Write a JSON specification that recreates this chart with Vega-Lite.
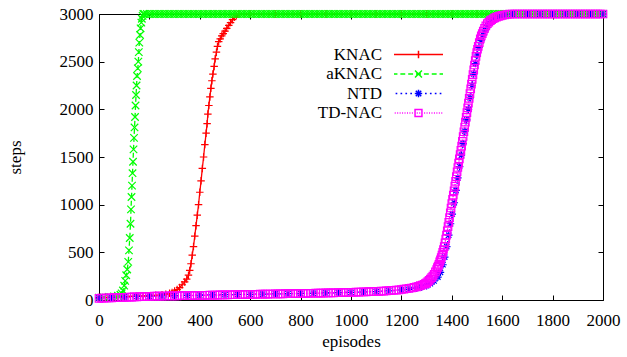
{
  "$schema": "https://vega.github.io/schema/vega-lite/v6.json",
  "width": 504,
  "height": 286,
  "autosize": "none",
  "padding": {"left": 99, "top": 14, "right": 24, "bottom": 57},
  "background": "white",
  "config": {
    "font": "Liberation Serif",
    "view": {"stroke": "black", "strokeWidth": 1},
    "axis": {
      "domain": false, "grid": false, "tickColor": "black", "tickSize": -5, "tickWidth": 1, "format": "d",
      "labelFont": "Liberation Serif", "labelFontSize": 17, "labelColor": "black",
      "titleFont": "Liberation Serif", "titleFontSize": 17, "titleFontWeight": "normal", "titleColor": "black"
    },
    "legend": {"orient": "none", "legendX": 311, "legendY": 32, "title": null,
               "labelFont": "Liberation Serif", "labelFontSize": 17, "labelColor": "black",
               "labelAlign": "right", "labelOffset": -45, "symbolSize": 100, "symbolStrokeWidth": 1.5, "rowPadding": 1.5}
  },
  "data": {"values": [
    {"s":"KNAC","e":0,"v":25},{"s":"KNAC","e":25,"v":28},{"s":"KNAC","e":50,"v":30},{"s":"KNAC","e":75,"v":32},{"s":"KNAC","e":100,"v":35},{"s":"KNAC","e":125,"v":37},{"s":"KNAC","e":150,"v":40},{"s":"KNAC","e":175,"v":42},{"s":"KNAC","e":200,"v":45},{"s":"KNAC","e":225,"v":50},{"s":"KNAC","e":250,"v":55},{"s":"KNAC","e":265,"v":60},{"s":"KNAC","e":280,"v":70},{"s":"KNAC","e":290,"v":80},{"s":"KNAC","e":300,"v":95},{"s":"KNAC","e":310,"v":110},{"s":"KNAC","e":320,"v":130},{"s":"KNAC","e":330,"v":160},{"s":"KNAC","e":340,"v":190},{"s":"KNAC","e":348,"v":220},{"s":"KNAC","e":355,"v":260},{"s":"KNAC","e":360,"v":310},{"s":"KNAC","e":365,"v":380},{"s":"KNAC","e":370,"v":470},{"s":"KNAC","e":375,"v":560},{"s":"KNAC","e":380,"v":670},{"s":"KNAC","e":385,"v":780},{"s":"KNAC","e":390,"v":890},{"s":"KNAC","e":395,"v":1000},{"s":"KNAC","e":400,"v":1130},{"s":"KNAC","e":405,"v":1250},{"s":"KNAC","e":410,"v":1380},{"s":"KNAC","e":415,"v":1500},{"s":"KNAC","e":420,"v":1630},{"s":"KNAC","e":425,"v":1750},{"s":"KNAC","e":429,"v":1850},{"s":"KNAC","e":432,"v":1950},{"s":"KNAC","e":436,"v":2040},{"s":"KNAC","e":440,"v":2130},{"s":"KNAC","e":444,"v":2220},{"s":"KNAC","e":448,"v":2300},{"s":"KNAC","e":452,"v":2370},{"s":"KNAC","e":457,"v":2450},{"s":"KNAC","e":461,"v":2530},{"s":"KNAC","e":466,"v":2600},{"s":"KNAC","e":470,"v":2660},{"s":"KNAC","e":475,"v":2710},{"s":"KNAC","e":481,"v":2740},{"s":"KNAC","e":487,"v":2770},{"s":"KNAC","e":493,"v":2795},{"s":"KNAC","e":500,"v":2820},{"s":"KNAC","e":507,"v":2850},{"s":"KNAC","e":515,"v":2880},{"s":"KNAC","e":522,"v":2910},{"s":"KNAC","e":530,"v":2940},{"s":"KNAC","e":537,"v":2965},{"s":"KNAC","e":545,"v":2985},{"s":"KNAC","e":555,"v":3000},{"s":"KNAC","e":600,"v":3000},{"s":"KNAC","e":700,"v":3000},{"s":"KNAC","e":800,"v":3000},{"s":"KNAC","e":900,"v":3000},{"s":"KNAC","e":1000,"v":3000},{"s":"KNAC","e":1100,"v":3000},{"s":"KNAC","e":1200,"v":3000},{"s":"KNAC","e":1300,"v":3000},{"s":"KNAC","e":1400,"v":3000},{"s":"KNAC","e":1500,"v":3000},{"s":"KNAC","e":1600,"v":3000},{"s":"KNAC","e":1700,"v":3000},{"s":"KNAC","e":1800,"v":3000},{"s":"KNAC","e":1900,"v":3000},{"s":"KNAC","e":2000,"v":3000},
    {"s":"aKNAC","e":0,"v":25},{"s":"aKNAC","e":20,"v":28},{"s":"aKNAC","e":40,"v":32},{"s":"aKNAC","e":60,"v":38},{"s":"aKNAC","e":75,"v":45},{"s":"aKNAC","e":85,"v":55},{"s":"aKNAC","e":90,"v":70},{"s":"aKNAC","e":95,"v":100},{"s":"aKNAC","e":100,"v":150},{"s":"aKNAC","e":104,"v":200},{"s":"aKNAC","e":108,"v":260},{"s":"aKNAC","e":112,"v":320},{"s":"aKNAC","e":116,"v":400},{"s":"aKNAC","e":119,"v":520},{"s":"aKNAC","e":122,"v":650},{"s":"aKNAC","e":125,"v":800},{"s":"aKNAC","e":127,"v":950},{"s":"aKNAC","e":129,"v":1080},{"s":"aKNAC","e":131,"v":1200},{"s":"aKNAC","e":133,"v":1330},{"s":"aKNAC","e":135,"v":1450},{"s":"aKNAC","e":137,"v":1580},{"s":"aKNAC","e":139,"v":1700},{"s":"aKNAC","e":141,"v":1810},{"s":"aKNAC","e":143,"v":1920},{"s":"aKNAC","e":145,"v":2040},{"s":"aKNAC","e":147,"v":2150},{"s":"aKNAC","e":149,"v":2250},{"s":"aKNAC","e":151,"v":2350},{"s":"aKNAC","e":154,"v":2430},{"s":"aKNAC","e":156,"v":2500},{"s":"aKNAC","e":158,"v":2600},{"s":"aKNAC","e":160,"v":2700},{"s":"aKNAC","e":163,"v":2780},{"s":"aKNAC","e":165,"v":2850},{"s":"aKNAC","e":168,"v":2910},{"s":"aKNAC","e":170,"v":2950},{"s":"aKNAC","e":173,"v":2980},{"s":"aKNAC","e":176,"v":3000},
    {"s":"aKNAC","e":180,"v":3000},{"s":"aKNAC","e":190,"v":3000},{"s":"aKNAC","e":200,"v":3000},{"s":"aKNAC","e":210,"v":3000},{"s":"aKNAC","e":220,"v":3000},{"s":"aKNAC","e":230,"v":3000},{"s":"aKNAC","e":240,"v":3000},{"s":"aKNAC","e":250,"v":3000},{"s":"aKNAC","e":260,"v":3000},{"s":"aKNAC","e":270,"v":3000},{"s":"aKNAC","e":280,"v":3000},{"s":"aKNAC","e":290,"v":3000},{"s":"aKNAC","e":300,"v":3000},{"s":"aKNAC","e":310,"v":3000},{"s":"aKNAC","e":320,"v":3000},{"s":"aKNAC","e":330,"v":3000},{"s":"aKNAC","e":340,"v":3000},{"s":"aKNAC","e":350,"v":3000},{"s":"aKNAC","e":360,"v":3000},{"s":"aKNAC","e":370,"v":3000},{"s":"aKNAC","e":380,"v":3000},{"s":"aKNAC","e":390,"v":3000},{"s":"aKNAC","e":400,"v":3000},{"s":"aKNAC","e":410,"v":3000},{"s":"aKNAC","e":420,"v":3000},{"s":"aKNAC","e":430,"v":3000},{"s":"aKNAC","e":440,"v":3000},{"s":"aKNAC","e":450,"v":3000},{"s":"aKNAC","e":460,"v":3000},{"s":"aKNAC","e":470,"v":3000},{"s":"aKNAC","e":480,"v":3000},{"s":"aKNAC","e":490,"v":3000},{"s":"aKNAC","e":500,"v":3000},{"s":"aKNAC","e":510,"v":3000},{"s":"aKNAC","e":520,"v":3000},{"s":"aKNAC","e":530,"v":3000},{"s":"aKNAC","e":540,"v":3000},{"s":"aKNAC","e":550,"v":3000},{"s":"aKNAC","e":560,"v":3000},{"s":"aKNAC","e":570,"v":3000},{"s":"aKNAC","e":580,"v":3000},{"s":"aKNAC","e":590,"v":3000},{"s":"aKNAC","e":600,"v":3000},{"s":"aKNAC","e":610,"v":3000},{"s":"aKNAC","e":620,"v":3000},{"s":"aKNAC","e":630,"v":3000},{"s":"aKNAC","e":640,"v":3000},{"s":"aKNAC","e":650,"v":3000},{"s":"aKNAC","e":660,"v":3000},{"s":"aKNAC","e":670,"v":3000},{"s":"aKNAC","e":680,"v":3000},{"s":"aKNAC","e":690,"v":3000},{"s":"aKNAC","e":700,"v":3000},{"s":"aKNAC","e":710,"v":3000},{"s":"aKNAC","e":720,"v":3000},{"s":"aKNAC","e":730,"v":3000},{"s":"aKNAC","e":740,"v":3000},{"s":"aKNAC","e":750,"v":3000},{"s":"aKNAC","e":760,"v":3000},{"s":"aKNAC","e":770,"v":3000},{"s":"aKNAC","e":780,"v":3000},{"s":"aKNAC","e":790,"v":3000},{"s":"aKNAC","e":800,"v":3000},{"s":"aKNAC","e":810,"v":3000},{"s":"aKNAC","e":820,"v":3000},{"s":"aKNAC","e":830,"v":3000},{"s":"aKNAC","e":840,"v":3000},{"s":"aKNAC","e":850,"v":3000},{"s":"aKNAC","e":860,"v":3000},{"s":"aKNAC","e":870,"v":3000},{"s":"aKNAC","e":880,"v":3000},{"s":"aKNAC","e":890,"v":3000},{"s":"aKNAC","e":900,"v":3000},{"s":"aKNAC","e":910,"v":3000},{"s":"aKNAC","e":920,"v":3000},{"s":"aKNAC","e":930,"v":3000},{"s":"aKNAC","e":940,"v":3000},{"s":"aKNAC","e":950,"v":3000},{"s":"aKNAC","e":960,"v":3000},{"s":"aKNAC","e":970,"v":3000},{"s":"aKNAC","e":980,"v":3000},{"s":"aKNAC","e":990,"v":3000},{"s":"aKNAC","e":1000,"v":3000},{"s":"aKNAC","e":1010,"v":3000},{"s":"aKNAC","e":1020,"v":3000},{"s":"aKNAC","e":1030,"v":3000},{"s":"aKNAC","e":1040,"v":3000},{"s":"aKNAC","e":1050,"v":3000},{"s":"aKNAC","e":1060,"v":3000},{"s":"aKNAC","e":1070,"v":3000},{"s":"aKNAC","e":1080,"v":3000},{"s":"aKNAC","e":1090,"v":3000},{"s":"aKNAC","e":1100,"v":3000},{"s":"aKNAC","e":1110,"v":3000},{"s":"aKNAC","e":1120,"v":3000},{"s":"aKNAC","e":1130,"v":3000},{"s":"aKNAC","e":1140,"v":3000},{"s":"aKNAC","e":1150,"v":3000},{"s":"aKNAC","e":1160,"v":3000},{"s":"aKNAC","e":1170,"v":3000},{"s":"aKNAC","e":1180,"v":3000},{"s":"aKNAC","e":1190,"v":3000},{"s":"aKNAC","e":1200,"v":3000},{"s":"aKNAC","e":1210,"v":3000},{"s":"aKNAC","e":1220,"v":3000},{"s":"aKNAC","e":1230,"v":3000},{"s":"aKNAC","e":1240,"v":3000},{"s":"aKNAC","e":1250,"v":3000},{"s":"aKNAC","e":1260,"v":3000},{"s":"aKNAC","e":1270,"v":3000},{"s":"aKNAC","e":1280,"v":3000},{"s":"aKNAC","e":1290,"v":3000},{"s":"aKNAC","e":1300,"v":3000},{"s":"aKNAC","e":1310,"v":3000},{"s":"aKNAC","e":1320,"v":3000},{"s":"aKNAC","e":1330,"v":3000},{"s":"aKNAC","e":1340,"v":3000},{"s":"aKNAC","e":1350,"v":3000},{"s":"aKNAC","e":1360,"v":3000},{"s":"aKNAC","e":1370,"v":3000},{"s":"aKNAC","e":1380,"v":3000},{"s":"aKNAC","e":1390,"v":3000},{"s":"aKNAC","e":1400,"v":3000},{"s":"aKNAC","e":1410,"v":3000},{"s":"aKNAC","e":1420,"v":3000},{"s":"aKNAC","e":1430,"v":3000},{"s":"aKNAC","e":1440,"v":3000},{"s":"aKNAC","e":1450,"v":3000},{"s":"aKNAC","e":1460,"v":3000},{"s":"aKNAC","e":1470,"v":3000},{"s":"aKNAC","e":1480,"v":3000},{"s":"aKNAC","e":1490,"v":3000},{"s":"aKNAC","e":1500,"v":3000},{"s":"aKNAC","e":1510,"v":3000},{"s":"aKNAC","e":1520,"v":3000},{"s":"aKNAC","e":1530,"v":3000},{"s":"aKNAC","e":1540,"v":3000},{"s":"aKNAC","e":1550,"v":3000},{"s":"aKNAC","e":1560,"v":3000},{"s":"aKNAC","e":1570,"v":3000},{"s":"aKNAC","e":1580,"v":3000},{"s":"aKNAC","e":1590,"v":3000},{"s":"aKNAC","e":1600,"v":3000},{"s":"aKNAC","e":1610,"v":3000},{"s":"aKNAC","e":1620,"v":3000},{"s":"aKNAC","e":1630,"v":3000},{"s":"aKNAC","e":1640,"v":3000},{"s":"aKNAC","e":1650,"v":3000},{"s":"aKNAC","e":1660,"v":3000},{"s":"aKNAC","e":1670,"v":3000},{"s":"aKNAC","e":1680,"v":3000},{"s":"aKNAC","e":1690,"v":3000},{"s":"aKNAC","e":1700,"v":3000},{"s":"aKNAC","e":1710,"v":3000},{"s":"aKNAC","e":1720,"v":3000},{"s":"aKNAC","e":1730,"v":3000},{"s":"aKNAC","e":1740,"v":3000},{"s":"aKNAC","e":1750,"v":3000},{"s":"aKNAC","e":1760,"v":3000},{"s":"aKNAC","e":1770,"v":3000},{"s":"aKNAC","e":1780,"v":3000},{"s":"aKNAC","e":1790,"v":3000},{"s":"aKNAC","e":1800,"v":3000},{"s":"aKNAC","e":1810,"v":3000},{"s":"aKNAC","e":1820,"v":3000},{"s":"aKNAC","e":1830,"v":3000},{"s":"aKNAC","e":1840,"v":3000},{"s":"aKNAC","e":1850,"v":3000},{"s":"aKNAC","e":1860,"v":3000},{"s":"aKNAC","e":1870,"v":3000},{"s":"aKNAC","e":1880,"v":3000},{"s":"aKNAC","e":1890,"v":3000},{"s":"aKNAC","e":1900,"v":3000},{"s":"aKNAC","e":1910,"v":3000},{"s":"aKNAC","e":1920,"v":3000},{"s":"aKNAC","e":1930,"v":3000},{"s":"aKNAC","e":1940,"v":3000},{"s":"aKNAC","e":1950,"v":3000},{"s":"aKNAC","e":1960,"v":3000},{"s":"aKNAC","e":1970,"v":3000},{"s":"aKNAC","e":1980,"v":3000},{"s":"aKNAC","e":1990,"v":3000},{"s":"aKNAC","e":2000,"v":3000},
    {"s":"NTD","e":0,"v":20},{"s":"NTD","e":50,"v":28},{"s":"NTD","e":100,"v":33},{"s":"NTD","e":150,"v":37},{"s":"NTD","e":200,"v":40},{"s":"NTD","e":250,"v":43},{"s":"NTD","e":300,"v":46},{"s":"NTD","e":350,"v":49},{"s":"NTD","e":400,"v":52},{"s":"NTD","e":450,"v":54},{"s":"NTD","e":500,"v":56},{"s":"NTD","e":550,"v":58},{"s":"NTD","e":600,"v":60},{"s":"NTD","e":650,"v":62},{"s":"NTD","e":700,"v":64},{"s":"NTD","e":750,"v":66},{"s":"NTD","e":800,"v":68},{"s":"NTD","e":850,"v":71},{"s":"NTD","e":900,"v":74},{"s":"NTD","e":950,"v":77},{"s":"NTD","e":1000,"v":80},{"s":"NTD","e":1050,"v":84},{"s":"NTD","e":1100,"v":88},{"s":"NTD","e":1150,"v":95},{"s":"NTD","e":1200,"v":105},{"s":"NTD","e":1230,"v":112},{"s":"NTD","e":1260,"v":125},{"s":"NTD","e":1280,"v":135},{"s":"NTD","e":1300,"v":150},{"s":"NTD","e":1315,"v":170},{"s":"NTD","e":1330,"v":200},{"s":"NTD","e":1345,"v":240},{"s":"NTD","e":1355,"v":290},{"s":"NTD","e":1365,"v":370},{"s":"NTD","e":1372,"v":450},{"s":"NTD","e":1380,"v":560},{"s":"NTD","e":1388,"v":680},{"s":"NTD","e":1395,"v":800},{"s":"NTD","e":1402,"v":900},{"s":"NTD","e":1410,"v":1020},{"s":"NTD","e":1417,"v":1150},{"s":"NTD","e":1424,"v":1280},{"s":"NTD","e":1431,"v":1400},{"s":"NTD","e":1438,"v":1520},{"s":"NTD","e":1445,"v":1640},{"s":"NTD","e":1452,"v":1770},{"s":"NTD","e":1459,"v":1890},{"s":"NTD","e":1466,"v":2000},{"s":"NTD","e":1473,"v":2120},{"s":"NTD","e":1480,"v":2250},{"s":"NTD","e":1487,"v":2370},{"s":"NTD","e":1494,"v":2480},{"s":"NTD","e":1501,"v":2570},{"s":"NTD","e":1508,"v":2650},{"s":"NTD","e":1516,"v":2720},{"s":"NTD","e":1524,"v":2780},{"s":"NTD","e":1533,"v":2830},{"s":"NTD","e":1543,"v":2880},{"s":"NTD","e":1555,"v":2920},{"s":"NTD","e":1570,"v":2955},{"s":"NTD","e":1590,"v":2975},{"s":"NTD","e":1610,"v":2990},{"s":"NTD","e":1640,"v":3000},{"s":"NTD","e":1700,"v":3000},{"s":"NTD","e":1750,"v":3000},{"s":"NTD","e":1800,"v":3000},{"s":"NTD","e":1850,"v":3000},{"s":"NTD","e":1900,"v":3000},{"s":"NTD","e":1950,"v":3000},{"s":"NTD","e":2000,"v":3000},
    {"s":"TD-NAC","e":0,"v":18},{"s":"TD-NAC","e":10,"v":19},{"s":"TD-NAC","e":20,"v":20},{"s":"TD-NAC","e":30,"v":21},{"s":"TD-NAC","e":40,"v":22},{"s":"TD-NAC","e":50,"v":23},{"s":"TD-NAC","e":60,"v":24},{"s":"TD-NAC","e":70,"v":25},{"s":"TD-NAC","e":80,"v":26},{"s":"TD-NAC","e":90,"v":27},{"s":"TD-NAC","e":100,"v":28},{"s":"TD-NAC","e":110,"v":29},{"s":"TD-NAC","e":120,"v":30},{"s":"TD-NAC","e":130,"v":31},{"s":"TD-NAC","e":140,"v":32},{"s":"TD-NAC","e":150,"v":33},{"s":"TD-NAC","e":160,"v":34},{"s":"TD-NAC","e":170,"v":35},{"s":"TD-NAC","e":180,"v":36},{"s":"TD-NAC","e":190,"v":37},{"s":"TD-NAC","e":200,"v":38},{"s":"TD-NAC","e":210,"v":39},{"s":"TD-NAC","e":220,"v":40},{"s":"TD-NAC","e":230,"v":40},{"s":"TD-NAC","e":240,"v":41},{"s":"TD-NAC","e":250,"v":41},{"s":"TD-NAC","e":260,"v":42},{"s":"TD-NAC","e":270,"v":42},{"s":"TD-NAC","e":280,"v":43},{"s":"TD-NAC","e":290,"v":43},{"s":"TD-NAC","e":300,"v":44},{"s":"TD-NAC","e":310,"v":44},{"s":"TD-NAC","e":320,"v":45},{"s":"TD-NAC","e":330,"v":45},{"s":"TD-NAC","e":340,"v":46},{"s":"TD-NAC","e":350,"v":46},{"s":"TD-NAC","e":360,"v":47},{"s":"TD-NAC","e":370,"v":47},{"s":"TD-NAC","e":380,"v":48},{"s":"TD-NAC","e":390,"v":48},{"s":"TD-NAC","e":400,"v":49},{"s":"TD-NAC","e":410,"v":49},{"s":"TD-NAC","e":420,"v":50},{"s":"TD-NAC","e":430,"v":50},{"s":"TD-NAC","e":440,"v":51},{"s":"TD-NAC","e":450,"v":51},{"s":"TD-NAC","e":460,"v":52},{"s":"TD-NAC","e":470,"v":52},{"s":"TD-NAC","e":480,"v":53},{"s":"TD-NAC","e":490,"v":53},{"s":"TD-NAC","e":500,"v":54},{"s":"TD-NAC","e":510,"v":54},{"s":"TD-NAC","e":520,"v":55},{"s":"TD-NAC","e":530,"v":55},{"s":"TD-NAC","e":540,"v":56},{"s":"TD-NAC","e":550,"v":56},{"s":"TD-NAC","e":560,"v":57},{"s":"TD-NAC","e":570,"v":57},{"s":"TD-NAC","e":580,"v":58},{"s":"TD-NAC","e":590,"v":58},{"s":"TD-NAC","e":600,"v":59},{"s":"TD-NAC","e":610,"v":59},{"s":"TD-NAC","e":620,"v":60},{"s":"TD-NAC","e":630,"v":60},{"s":"TD-NAC","e":640,"v":61},{"s":"TD-NAC","e":650,"v":61},{"s":"TD-NAC","e":660,"v":62},{"s":"TD-NAC","e":670,"v":62},{"s":"TD-NAC","e":680,"v":63},{"s":"TD-NAC","e":690,"v":63},{"s":"TD-NAC","e":700,"v":64},{"s":"TD-NAC","e":710,"v":64},{"s":"TD-NAC","e":720,"v":65},{"s":"TD-NAC","e":730,"v":65},{"s":"TD-NAC","e":740,"v":66},{"s":"TD-NAC","e":750,"v":66},{"s":"TD-NAC","e":760,"v":67},{"s":"TD-NAC","e":770,"v":67},{"s":"TD-NAC","e":780,"v":68},{"s":"TD-NAC","e":790,"v":68},{"s":"TD-NAC","e":800,"v":69},{"s":"TD-NAC","e":810,"v":69},{"s":"TD-NAC","e":820,"v":70},{"s":"TD-NAC","e":830,"v":70},{"s":"TD-NAC","e":840,"v":71},{"s":"TD-NAC","e":850,"v":71},{"s":"TD-NAC","e":860,"v":72},{"s":"TD-NAC","e":870,"v":72},{"s":"TD-NAC","e":880,"v":73},{"s":"TD-NAC","e":890,"v":73},{"s":"TD-NAC","e":900,"v":74},{"s":"TD-NAC","e":910,"v":74},{"s":"TD-NAC","e":920,"v":75},{"s":"TD-NAC","e":930,"v":75},{"s":"TD-NAC","e":940,"v":76},{"s":"TD-NAC","e":950,"v":77},{"s":"TD-NAC","e":960,"v":78},{"s":"TD-NAC","e":970,"v":78},{"s":"TD-NAC","e":980,"v":79},{"s":"TD-NAC","e":990,"v":79},{"s":"TD-NAC","e":1000,"v":80},{"s":"TD-NAC","e":1010,"v":81},{"s":"TD-NAC","e":1020,"v":82},{"s":"TD-NAC","e":1030,"v":83},{"s":"TD-NAC","e":1040,"v":84},{"s":"TD-NAC","e":1050,"v":85},{"s":"TD-NAC","e":1060,"v":86},{"s":"TD-NAC","e":1070,"v":87},{"s":"TD-NAC","e":1080,"v":88},{"s":"TD-NAC","e":1090,"v":89},{"s":"TD-NAC","e":1100,"v":90},{"s":"TD-NAC","e":1110,"v":91},{"s":"TD-NAC","e":1120,"v":93},{"s":"TD-NAC","e":1130,"v":94},{"s":"TD-NAC","e":1140,"v":96},{"s":"TD-NAC","e":1150,"v":98},{"s":"TD-NAC","e":1160,"v":100},{"s":"TD-NAC","e":1170,"v":102},{"s":"TD-NAC","e":1180,"v":104},{"s":"TD-NAC","e":1190,"v":107},{"s":"TD-NAC","e":1200,"v":110},{"s":"TD-NAC","e":1210,"v":114},{"s":"TD-NAC","e":1220,"v":118},{"s":"TD-NAC","e":1230,"v":122},{"s":"TD-NAC","e":1240,"v":126},{"s":"TD-NAC","e":1250,"v":132},{"s":"TD-NAC","e":1260,"v":138},{"s":"TD-NAC","e":1268,"v":144},{"s":"TD-NAC","e":1275,"v":150},{"s":"TD-NAC","e":1283,"v":157},{"s":"TD-NAC","e":1290,"v":165},{"s":"TD-NAC","e":1295,"v":172},{"s":"TD-NAC","e":1300,"v":180},{"s":"TD-NAC","e":1305,"v":192},{"s":"TD-NAC","e":1310,"v":205},{"s":"TD-NAC","e":1315,"v":220},{"s":"TD-NAC","e":1320,"v":235},{"s":"TD-NAC","e":1325,"v":252},{"s":"TD-NAC","e":1330,"v":270},{"s":"TD-NAC","e":1335,"v":295},{"s":"TD-NAC","e":1340,"v":320},{"s":"TD-NAC","e":1343,"v":340},{"s":"TD-NAC","e":1346,"v":355},{"s":"TD-NAC","e":1349,"v":375},{"s":"TD-NAC","e":1352,"v":400},{"s":"TD-NAC","e":1355,"v":420},{"s":"TD-NAC","e":1358,"v":445},{"s":"TD-NAC","e":1361,"v":470},{"s":"TD-NAC","e":1364,"v":500},{"s":"TD-NAC","e":1367,"v":530},{"s":"TD-NAC","e":1370,"v":560},{"s":"TD-NAC","e":1373,"v":600},{"s":"TD-NAC","e":1376,"v":640},{"s":"TD-NAC","e":1379,"v":680},{"s":"TD-NAC","e":1382,"v":725},{"s":"TD-NAC","e":1385,"v":770},{"s":"TD-NAC","e":1388,"v":815},{"s":"TD-NAC","e":1391,"v":865},{"s":"TD-NAC","e":1394,"v":915},{"s":"TD-NAC","e":1397,"v":965},{"s":"TD-NAC","e":1400,"v":1010},{"s":"TD-NAC","e":1403,"v":1055},{"s":"TD-NAC","e":1406,"v":1100},{"s":"TD-NAC","e":1409,"v":1145},{"s":"TD-NAC","e":1412,"v":1195},{"s":"TD-NAC","e":1415,"v":1245},{"s":"TD-NAC","e":1418,"v":1295},{"s":"TD-NAC","e":1421,"v":1345},{"s":"TD-NAC","e":1424,"v":1390},{"s":"TD-NAC","e":1427,"v":1435},{"s":"TD-NAC","e":1430,"v":1480},{"s":"TD-NAC","e":1433,"v":1525},{"s":"TD-NAC","e":1436,"v":1570},{"s":"TD-NAC","e":1439,"v":1615},{"s":"TD-NAC","e":1442,"v":1665},{"s":"TD-NAC","e":1445,"v":1715},{"s":"TD-NAC","e":1448,"v":1765},{"s":"TD-NAC","e":1451,"v":1815},{"s":"TD-NAC","e":1454,"v":1865},{"s":"TD-NAC","e":1457,"v":1915},{"s":"TD-NAC","e":1460,"v":1965},{"s":"TD-NAC","e":1463,"v":2015},{"s":"TD-NAC","e":1466,"v":2065},{"s":"TD-NAC","e":1469,"v":2115},{"s":"TD-NAC","e":1472,"v":2165},{"s":"TD-NAC","e":1475,"v":2215},{"s":"TD-NAC","e":1478,"v":2265},{"s":"TD-NAC","e":1481,"v":2315},{"s":"TD-NAC","e":1484,"v":2365},{"s":"TD-NAC","e":1487,"v":2415},{"s":"TD-NAC","e":1490,"v":2465},{"s":"TD-NAC","e":1493,"v":2510},{"s":"TD-NAC","e":1496,"v":2555},{"s":"TD-NAC","e":1499,"v":2595},{"s":"TD-NAC","e":1502,"v":2630},{"s":"TD-NAC","e":1505,"v":2660},{"s":"TD-NAC","e":1509,"v":2700},{"s":"TD-NAC","e":1513,"v":2740},{"s":"TD-NAC","e":1517,"v":2770},{"s":"TD-NAC","e":1521,"v":2795},{"s":"TD-NAC","e":1525,"v":2820},{"s":"TD-NAC","e":1530,"v":2850},{"s":"TD-NAC","e":1535,"v":2875},{"s":"TD-NAC","e":1541,"v":2900},{"s":"TD-NAC","e":1547,"v":2915},{"s":"TD-NAC","e":1553,"v":2930},{"s":"TD-NAC","e":1558,"v":2940},{"s":"TD-NAC","e":1564,"v":2950},{"s":"TD-NAC","e":1570,"v":2960},{"s":"TD-NAC","e":1577,"v":2968},{"s":"TD-NAC","e":1585,"v":2975},{"s":"TD-NAC","e":1592,"v":2980},{"s":"TD-NAC","e":1600,"v":2985},{"s":"TD-NAC","e":1610,"v":2990},{"s":"TD-NAC","e":1620,"v":2995},{"s":"TD-NAC","e":1630,"v":2998},{"s":"TD-NAC","e":1640,"v":3000},{"s":"TD-NAC","e":1650,"v":3000},{"s":"TD-NAC","e":1660,"v":3000},{"s":"TD-NAC","e":1670,"v":3000},{"s":"TD-NAC","e":1680,"v":3000},{"s":"TD-NAC","e":1690,"v":3000},{"s":"TD-NAC","e":1700,"v":3000},{"s":"TD-NAC","e":1710,"v":3000},{"s":"TD-NAC","e":1720,"v":3000},{"s":"TD-NAC","e":1730,"v":3000},{"s":"TD-NAC","e":1740,"v":3000},{"s":"TD-NAC","e":1750,"v":3000},{"s":"TD-NAC","e":1760,"v":3000},{"s":"TD-NAC","e":1770,"v":3000},{"s":"TD-NAC","e":1780,"v":3000},{"s":"TD-NAC","e":1790,"v":3000},{"s":"TD-NAC","e":1800,"v":3000},{"s":"TD-NAC","e":1810,"v":3000},{"s":"TD-NAC","e":1820,"v":3000},{"s":"TD-NAC","e":1830,"v":3000},{"s":"TD-NAC","e":1840,"v":3000},{"s":"TD-NAC","e":1850,"v":3000},{"s":"TD-NAC","e":1860,"v":3000},{"s":"TD-NAC","e":1870,"v":3000},{"s":"TD-NAC","e":1880,"v":3000},{"s":"TD-NAC","e":1890,"v":3000},{"s":"TD-NAC","e":1900,"v":3000},{"s":"TD-NAC","e":1910,"v":3000},{"s":"TD-NAC","e":1920,"v":3000},{"s":"TD-NAC","e":1930,"v":3000},{"s":"TD-NAC","e":1940,"v":3000},{"s":"TD-NAC","e":1950,"v":3000},{"s":"TD-NAC","e":1960,"v":3000},{"s":"TD-NAC","e":1970,"v":3000},{"s":"TD-NAC","e":1980,"v":3000},{"s":"TD-NAC","e":1990,"v":3000},{"s":"TD-NAC","e":2000,"v":3000}
  ]},
  "resolve": {"axis": {"x": "independent", "y": "independent"}},
  "layer": [
    {
      "mark": {"type": "line", "strokeWidth": 1.3},
      "encoding": {
        "x": {"field": "e", "type": "quantitative", "scale": {"domain": [0, 2000], "nice": false},
              "axis": {"orient": "bottom", "title": "episodes", "values": [0,200,400,600,800,1000,1200,1400,1600,1800,2000], "labelFlush": false, "labelPadding": 17, "titleY": 46, "titleBaseline": "alphabetic"}},
        "y": {"field": "v", "type": "quantitative", "scale": {"domain": [0, 3000], "nice": false},
              "axis": {"orient": "left", "title": "steps", "values": [0,500,1000,1500,2000,2500,3000], "labelPadding": 11, "titleAngle": 270, "titleX": -79, "titleY": 143, "titleAlign": "center", "titleBaseline": "alphabetic"}},
        "color": {"field": "s", "type": "nominal",
                  "scale": {"domain": ["KNAC", "aKNAC", "NTD", "TD-NAC"], "range": ["#ff0000", "#00ff00", "#0000ff", "#ff00ff"]},
                  "legend": {"encode": {"symbols": {"update": {
                               "fill": {"value": "transparent"},
                               "strokeDash": {"value": [1, 0]},
                               "shape": {"signal": "datum.value === 'KNAC' ? 'M-4.9,0H4.9M0,-0.75V0.75' : datum.value === 'aKNAC' ? 'M-4.9,0H-4.21M-3.63,0H-2.65M-2.06,0H-1.08M-0.49,0H0.49M1.08,0H2.06M2.65,0H3.63M4.21,0H4.9M-0.69,-0.69L0.69,0.69M-0.69,0.69L0.69,-0.69' : datum.value === 'NTD' ? 'M-4.58,0H-4.24M-3.6,0H-3.26M-2.62,0H-2.28M-1.64,0H-1.3M-0.66,0H-0.32M0.32,0H0.66M1.3,0H1.64M2.28,0H2.62M3.26,0H3.6M4.24,0H4.58M-0.74,0H0.74M0,-0.74V0.74M-0.54,-0.54L0.54,0.54M-0.54,0.54L0.54,-0.54' : 'M-4.755,0H-4.555M-4.265,0H-4.065M-3.775,0H-3.575M-3.285,0H-3.085M-2.795,0H-2.595M-2.305,0H-2.105M-1.815,0H-1.615M-1.325,0H-1.125M-0.835,0H-0.635M-0.345,0H-0.145M0.145,0H0.345M0.635,0H0.835M1.125,0H1.325M1.615,0H1.815M2.105,0H2.305M2.595,0H2.795M3.085,0H3.285M3.575,0H3.775M4.065,0H4.265M4.555,0H4.755M-0.69,-0.69H0.69V0.69H-0.69Z'"}
                             }}}}},
        "strokeDash": {"field": "s", "type": "nominal", "legend": null,
                       "scale": {"domain": ["NTD", "TD-NAC", "KNAC", "aKNAC"], "range": [[2, 4], [1.5, 1.5], [1, 0], [5, 3]]}}
      }
    },
    {
      "mark": {"type": "point", "filled": false, "size": 56, "strokeWidth": 1.2, "opacity": 1},
      "encoding": {
        "x": {"field": "e", "type": "quantitative", "scale": {"domain": [0, 2000], "nice": false},
              "axis": {"orient": "top", "title": null, "labels": false, "values": [0,200,400,600,800,1000,1200,1400,1600,1800,2000]}},
        "y": {"field": "v", "type": "quantitative", "scale": {"domain": [0, 3000], "nice": false},
              "axis": {"orient": "right", "title": null, "labels": false, "values": [0,500,1000,1500,2000,2500,3000]}},
        "color": {"field": "s", "type": "nominal",
                  "scale": {"domain": ["KNAC", "aKNAC", "NTD", "TD-NAC"], "range": ["#ff0000", "#00ff00", "#0000ff", "#ff00ff"]},
                  "legend": {"encode": {"symbols": {"update": {
                               "fill": {"value": "transparent"},
                               "strokeDash": {"value": [1, 0]},
                               "shape": {"signal": "datum.value === 'KNAC' ? 'M-4.9,0H4.9M0,-0.75V0.75' : datum.value === 'aKNAC' ? 'M-4.9,0H-4.21M-3.63,0H-2.65M-2.06,0H-1.08M-0.49,0H0.49M1.08,0H2.06M2.65,0H3.63M4.21,0H4.9M-0.69,-0.69L0.69,0.69M-0.69,0.69L0.69,-0.69' : datum.value === 'NTD' ? 'M-4.58,0H-4.24M-3.6,0H-3.26M-2.62,0H-2.28M-1.64,0H-1.3M-0.66,0H-0.32M0.32,0H0.66M1.3,0H1.64M2.28,0H2.62M3.26,0H3.6M4.24,0H4.58M-0.74,0H0.74M0,-0.74V0.74M-0.54,-0.54L0.54,0.54M-0.54,0.54L0.54,-0.54' : 'M-4.755,0H-4.555M-4.265,0H-4.065M-3.775,0H-3.575M-3.285,0H-3.085M-2.795,0H-2.595M-2.305,0H-2.105M-1.815,0H-1.615M-1.325,0H-1.125M-0.835,0H-0.635M-0.345,0H-0.145M0.145,0H0.345M0.635,0H0.835M1.125,0H1.325M1.615,0H1.815M2.105,0H2.305M2.595,0H2.795M3.085,0H3.285M3.575,0H3.775M4.065,0H4.265M4.555,0H4.755M-0.69,-0.69H0.69V0.69H-0.69Z'"}
                             }}}}},
        "shape": {"field": "s", "type": "nominal", "legend": null,
                  "scale": {"domain": ["TD-NAC", "NTD", "aKNAC", "KNAC"], "range": ["M-1,-1H1V1H-1Z", "M-1,0H1M0,-1V1M-0.7,-0.7L0.7,0.7M-0.7,0.7L0.7,-0.7", "M-1,-1L1,1M-1,1L1,-1", "M-1,0H1M0,-1V1"]}}
      }
    }
  ]
}
